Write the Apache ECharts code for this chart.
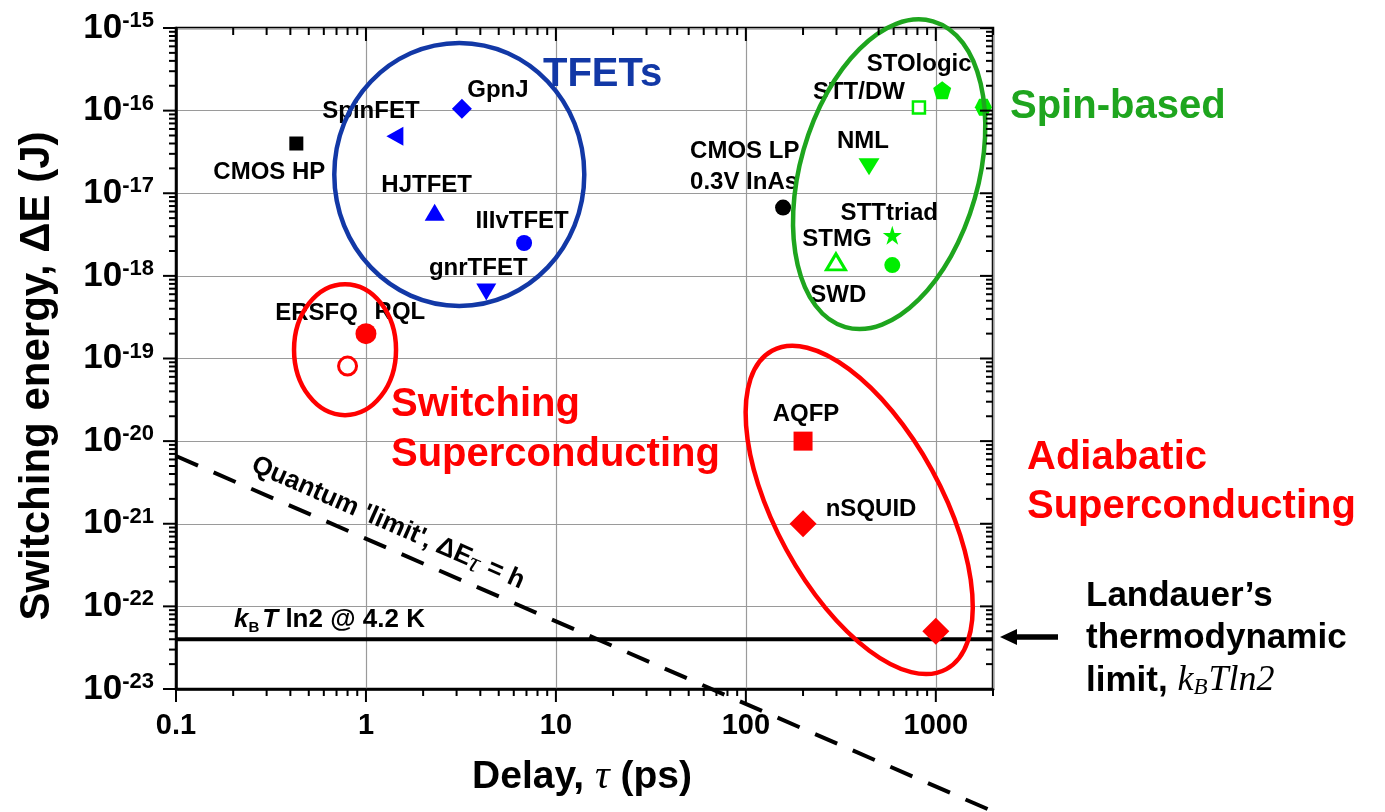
<!DOCTYPE html>
<html>
<head>
<meta charset="utf-8">
<title>Switching energy vs delay</title>
<script src="https://cdn.jsdelivr.net/npm/echarts@6/dist/echarts.min.js"></script>
<style>
  html, body { margin: 0; padding: 0; background: #fff; }
  #chart { width: 1385px; height: 812px; }
</style>
</head>
<body>
<div id="chart"></div>
<script>
// ---------- data ----------
const deviceNames = ['CMOS HP', 'SpinFET', 'GpnJ', 'HJTFET', 'IIIvTFET', 'gnrTFET',
  'ERSFQ', 'RQL', 'CMOS LP\n0.3V InAs', 'STOlogic', 'STT/DW', 'spin (edge)',
  'NML', 'STTtriad', 'STMG', 'SWD', 'AQFP', 'nSQUID', 'adiabatic (low)'];
const delayPs = [0.43, 1.42, 3.2, 2.3, 6.8, 4.3,
  0.8, 1.0, 157, 1080, 815, 1780,
  445, 590, 298, 590, 200, 200, 1000];
const energyJ = [4.0e-17, 4.9e-17, 1.05e-16, 5.9e-18, 2.5e-18, 6.4e-19,
  8.1e-20, 2.0e-19, 6.7e-18, 1.77e-16, 1.09e-16, 1.1e-16,
  2.1e-17, 3.1e-18, 1.48e-18, 1.35e-18, 1.0e-20, 1.0e-21, 5.0e-23];

// centres of the family outlines
const groupNames = ['TFETs', 'Spin-based', 'Switching SC', 'Adiabatic SC'];
const groupDelayPs = [3.1, 568, 0.776, 395];
const groupEnergyJ = [1.69e-17, 1.70e-17, 1.28e-19, 1.47e-21];

// limit lines
const thermalDelayPs = [0.1, 2000];
const thermalEnergyJ = [4.0e-23, 4.0e-23];
const quantumDelayPs = [0.1, 2000];
const quantumEnergyJ = [6.6e-21, 3.3e-25];

// axis ticks
const xTickLabels = ['0.1', '1', '10', '100', '1000'];
const yTickExponents = [-23, -22, -21, -20, -19, -18, -17, -16, -15];
const X_MIN = 0.1, X_MAX = 2000;
const Y_MIN = 1e-23, Y_MAX = 1e-15;

// ---------- styles ----------
const SANS = '"Liberation Sans", Arial, Helvetica, sans-serif';
const SERIF = '"Liberation Serif", "Times New Roman", serif';
const BLUE = '#0000ff', GREEN = '#00ee00', RED = '#ff0000', BLACK = '#000000';
const NAVY = '#1238a6', DGREEN = '#1ea51e';

const PENTAGON = 'path://M0,-1L0.951,-0.309L0.588,0.809L-0.588,0.809L-0.951,-0.309Z';
const STAR = 'path://M0,-1L0.2245,-0.309L0.951,-0.309L0.363,0.118L0.588,0.809L0,0.382L-0.588,0.809L-0.363,0.118L-0.951,-0.309L-0.2245,-0.309Z';
const HEXAGON = 'path://M-0.5,-0.866L0.5,-0.866L1,0L0.5,0.866L-0.5,0.866L-1,0Z';

// marker look and label offset per device
const markerStyle = {
  'CMOS HP':   { symbol: 'rect', size: 14, color: BLACK, label: [-27, 29] },
  'SpinFET':   { symbol: 'triangle', size: [19, 17], rotate: 90, color: BLUE, label: [-24, -25] },
  'GpnJ':      { symbol: 'diamond', size: 20, color: BLUE, label: [36, -18] },
  'HJTFET':    { symbol: 'triangle', size: [20, 17], color: BLUE, label: [-8, -27] },
  'IIIvTFET':  { symbol: 'circle', size: 16, color: BLUE, label: [-2, -22] },
  'gnrTFET':   { symbol: 'triangle', size: [20, 17], rotate: 180, color: BLUE, label: [-8, -24] },
  'ERSFQ':     { symbol: 'circle', size: 18, color: RED, hollow: 3, label: [-31, -53] },
  'RQL':       { symbol: 'circle', size: 21, color: RED, label: [34, -21] },
  'CMOS LP\n0.3V InAs': { symbol: 'circle', size: 16, color: BLACK, label: [-93, -41], align: 'left' },
  'STOlogic':  { symbol: PENTAGON, size: 18, color: GREEN, label: [-23, -26] },
  'STT/DW':    { symbol: 'rect', size: 12, color: GREEN, hollow: 2.5, label: [-60, -15] },
  'spin (edge)': { symbol: HEXAGON, size: 17, color: GREEN },
  'NML':       { symbol: 'triangle', size: [21, 17], rotate: 180, color: GREEN, label: [-6, -25] },
  'STTtriad':  { symbol: STAR, size: 19, color: GREEN, label: [-3, -22] },
  'STMG':      { symbol: 'triangle', size: [19, 16], color: GREEN, hollow: 3, label: [1, -22] },
  'SWD':       { symbol: 'circle', size: 16, color: GREEN, label: [-54, 30] },
  'AQFP':      { symbol: 'rect', size: 19, color: RED, label: [3, -27] },
  'nSQUID':    { symbol: 'diamond', size: 27, color: RED, label: [68, -14] },
  'adiabatic (low)': { symbol: 'diamond', size: 27, color: RED }
};

// outline shapes (pixel semi-axes, rotation in degrees, counter-clockwise positive)
const outlineStyle = {
  'TFETs':        { rx: 125, ry: 131.5, rot: 0, color: NAVY },
  'Spin-based':   { rx: 89, ry: 159, rot: -16, color: DGREEN },
  'Switching SC': { rx: 51, ry: 65.5, rot: 0, color: RED },
  'Adiabatic SC': { rx: 83, ry: 181.5, rot: 28.7, color: RED }
};

const yLabelRich = {
  b: { fontFamily: SANS, fontWeight: 'bold', fontSize: 35, fill: BLACK, lineHeight: 36 },
  s: { fontFamily: SANS, fontWeight: 'bold', fontSize: 22, fill: BLACK, lineHeight: 18, verticalAlign: 'top' }
};

// ---------- build series data ----------
const deviceData = deviceNames.map((name, i) => {
  const s = markerStyle[name];
  const item = {
    name: name,
    value: [delayPs[i], energyJ[i]],
    symbol: s.symbol,
    symbolSize: s.size,
    symbolRotate: s.rotate || 0,
    itemStyle: s.hollow
      ? { color: '#ffffff', borderColor: s.color, borderWidth: s.hollow, opacity: 1 }
      : { color: s.color, borderWidth: 0, opacity: 1 }
  };
  if (s.label) {
    item.label = {
      show: true,
      position: 'inside',
      offset: s.label,
      align: s.align || 'center',
      verticalAlign: 'middle',
      formatter: name,
      color: BLACK,
      opacity: 1,
      fontFamily: SANS,
      fontWeight: 'bold',
      fontSize: 24,
      lineHeight: 31
    };
  } else {
    item.label = { show: false };
  }
  return item;
});

const groupData = groupNames.map((name, i) => ({ name: name, value: [groupDelayPs[i], groupEnergyJ[i]] }));

function pairs(xs, ys) { return xs.map((x, i) => [x, ys[i]]); }

// ---------- renderers ----------
function renderOutline(params, api) {
  const s = outlineStyle[groupNames[params.dataIndex]];
  const c = api.coord([api.value(0), api.value(1)]);
  return {
    type: 'ellipse',
    x: c[0], y: c[1],
    rotation: s.rot * Math.PI / 180,
    shape: { cx: 0, cy: 0, rx: s.rx, ry: s.ry },
    style: { fill: 'none', stroke: s.color, lineWidth: 4.5 }
  };
}

// log-axis tick marks (bottom/left outward, top/right inward) and decade labels of the energy axis
function renderTicks(params, api) {
  const cs = params.coordSys;
  const left = cs.x, right = cs.x + cs.width, top = cs.y, bottom = cs.y + cs.height;
  const children = [];
  const seg = (x1, y1, x2, y2) => children.push({
    type: 'line', shape: { x1, y1, x2, y2 }, style: { stroke: BLACK, lineWidth: 2 }
  });
  for (let e = -1; e <= 3; e++) {
    for (let m = 1; m <= 9; m++) {
      const v = m * Math.pow(10, e);
      if (v > X_MAX * 1.0001) break;
      const px = api.coord([v, Y_MIN])[0];
      const len = m === 1 ? 13 : 7;
      seg(px, bottom, px, bottom + len);
      seg(px, top, px, top + len);
    }
  }
  for (let e = -23; e <= -15; e++) {
    for (let m = 1; m <= 9; m++) {
      const v = m * Math.pow(10, e);
      if (v > Y_MAX * 1.0001) break;
      const py = api.coord([X_MIN, v])[1];
      const len = m === 1 ? 13 : 7;
      seg(left - len, py, left, py);
      seg(right - len, py, right, py);
    }
  }
  yTickExponents.forEach(e => {
    const py = api.coord([X_MIN, Math.pow(10, e)])[1];
    children.push({
      type: 'text', x: left - 22, y: py,
      style: {
        text: '{b|10}{s|' + e + '}', rich: yLabelRich,
        align: 'right', verticalAlign: 'middle', textAlign: 'right', textVerticalAlign: 'middle'
      }
    });
  });
  return { type: 'group', children: children };
}

function isDecade(v) {
  const l = Math.log10(v);
  return Math.abs(l - Math.round(l)) < 1e-6;
}

// ---------- chart ----------
const chart = echarts.init(document.getElementById('chart'), null, { renderer: 'canvas' });

const option = {
  backgroundColor: '#ffffff',
  animation: false,
  grid: {
    left: 176, right: 392, top: 28, bottom: 123,
    containLabel: false, outerBoundsMode: 'none',
    show: true, borderColor: BLACK, borderWidth: 2.5, backgroundColor: 'transparent'
  },
  xAxis: {
    type: 'log', logBase: 10, min: X_MIN, max: X_MAX,
    axisLine: { show: true, lineStyle: { color: BLACK, width: 2.5 } },
    axisTick: { show: false },
    splitLine: { show: true, lineStyle: { color: '#9a9a9a', width: 1.2 } },
    axisLabel: {
      margin: 22, hideOverlap: false,
      color: BLACK, fontFamily: SANS, fontWeight: 'bold', fontSize: 29,
      showMinLabel: true, showMaxLabel: true,
      formatter: v => isDecade(v) ? xTickLabels[Math.round(Math.log10(v)) + 1] : ''
    }
  },
  yAxis: {
    type: 'log', logBase: 10, min: Y_MIN, max: Y_MAX,
    axisLine: { show: true, lineStyle: { color: BLACK, width: 2.5 } },
    axisTick: { show: false },
    axisLabel: { show: false },
    splitLine: { show: true, lineStyle: { color: '#9a9a9a', width: 1.2 } }
  },
  series: [
    {
      name: 'kBT ln2 @ 4.2 K', type: 'line', data: pairs(thermalDelayPs, thermalEnergyJ),
      symbol: 'none', z: 3, silent: true,
      lineStyle: { color: BLACK, width: 4 }
    },
    {
      name: 'Quantum limit', type: 'line', data: pairs(quantumDelayPs, quantumEnergyJ),
      symbol: 'none', z: 3, silent: true, clip: false,
      lineStyle: { color: BLACK, width: 4, type: [24, 17] }
    },
    {
      name: 'Devices', type: 'scatter', data: deviceData, z: 4
    },
    {
      name: 'Families', type: 'custom', data: groupData, renderItem: renderOutline, z: 5, silent: true
    },
    {
      name: 'Ticks', type: 'custom', data: [[1, 1e-19]], renderItem: renderTicks, z: 6, silent: true
    }
  ],
  graphic: [
    // axis titles
    { type: 'text', x: 37, y: 376, rotation: Math.PI / 2, z: 20,
      style: { text: 'Switching energy, \u0394E (J)', font: 'bold 42px ' + SANS, fill: BLACK,
        align: 'center', verticalAlign: 'middle', textAlign: 'center', textVerticalAlign: 'middle' } },
    { type: 'text', x: 582, y: 777, z: 20,
      style: {
        text: '{n|Delay, }{t|\u03c4}{n| (ps)}',
        align: 'center', verticalAlign: 'middle', textAlign: 'center', textVerticalAlign: 'middle',
        rich: {
          n: { font: 'bold 39px ' + SANS, fill: BLACK },
          t: { font: 'italic 41px ' + SERIF, fill: BLACK }
        }
      } },
    // family names
    { type: 'text', x: 543, y: 75, z: 20,
      style: { text: 'TFETs', font: 'bold 40px ' + SANS, fill: NAVY, align: 'left', verticalAlign: 'middle', textAlign: 'left', textVerticalAlign: 'middle' } },
    { type: 'text', x: 1010, y: 107, z: 20,
      style: { text: 'Spin-based', font: 'bold 40px ' + SANS, fill: DGREEN, align: 'left', verticalAlign: 'middle', textAlign: 'left', textVerticalAlign: 'middle' } },
    { type: 'text', x: 391, y: 405, z: 20,
      style: { text: 'Switching', font: 'bold 40px ' + SANS, fill: RED, align: 'left', verticalAlign: 'middle', textAlign: 'left', textVerticalAlign: 'middle' } },
    { type: 'text', x: 391, y: 455, z: 20,
      style: { text: 'Superconducting', font: 'bold 40px ' + SANS, fill: RED, align: 'left', verticalAlign: 'middle', textAlign: 'left', textVerticalAlign: 'middle' } },
    { type: 'text', x: 1027, y: 458, z: 20,
      style: { text: 'Adiabatic', font: 'bold 40px ' + SANS, fill: RED, align: 'left', verticalAlign: 'middle', textAlign: 'left', textVerticalAlign: 'middle' } },
    { type: 'text', x: 1027, y: 507, z: 20,
      style: { text: 'Superconducting', font: 'bold 40px ' + SANS, fill: RED, align: 'left', verticalAlign: 'middle', textAlign: 'left', textVerticalAlign: 'middle' } },
    // limit annotations
    { type: 'text', x: 388, y: 523, rotation: -23.7 * Math.PI / 180, z: 20,
      style: {
        text: "{n|Quantum 'limit', \u0394E}{t|\u03c4}{n| = h}",
        align: 'center', verticalAlign: 'middle', textAlign: 'center', textVerticalAlign: 'middle',
        rich: {
          n: { font: 'bold 26px ' + SANS, fill: BLACK },
          t: { font: 'italic 28px ' + SERIF, fill: BLACK, padding: [6, 2, 0, 0] }
        }
      } },
    { type: 'text', x: 234, y: 620, z: 20,
      style: {
        text: '{i|k}{b|B}{i|T}{n| ln2 @ 4.2 K}',
        align: 'left', verticalAlign: 'middle', textAlign: 'left', textVerticalAlign: 'middle',
        rich: {
          i: { font: 'italic bold 26px ' + SANS, fill: BLACK },
          b: { font: 'bold 15px ' + SANS, fill: BLACK, padding: [15, 3, 0, 0] },
          n: { font: 'bold 26px ' + SANS, fill: BLACK }
        }
      } },
    // Landauer arrow and caption
    { type: 'line', z: 20, shape: { x1: 1014, y1: 637, x2: 1058, y2: 637 }, style: { stroke: BLACK, lineWidth: 5.5 } },
    { type: 'polygon', z: 20, shape: { points: [[1000, 637], [1017, 629], [1017, 645]] }, style: { fill: BLACK } },
    { type: 'text', x: 1086, y: 596, z: 20,
      style: { text: 'Landauer\u2019s', font: 'bold 35px ' + SANS, fill: BLACK, align: 'left', verticalAlign: 'middle', textAlign: 'left', textVerticalAlign: 'middle' } },
    { type: 'text', x: 1086, y: 638, z: 20,
      style: { text: 'thermodynamic', font: 'bold 35px ' + SANS, fill: BLACK, align: 'left', verticalAlign: 'middle', textAlign: 'left', textVerticalAlign: 'middle' } },
    { type: 'text', x: 1086, y: 681, z: 20,
      style: {
        text: '{n|limit, }{m|k}{s|B}{m|Tln2}',
        align: 'left', verticalAlign: 'middle', textAlign: 'left', textVerticalAlign: 'middle',
        rich: {
          n: { font: 'bold 35px ' + SANS, fill: BLACK },
          m: { font: 'italic 36px ' + SERIF, fill: BLACK },
          s: { font: 'italic 23px ' + SERIF, fill: BLACK, padding: [14, 1, 0, 0] }
        }
      } }
  ]
};

chart.setOption(option);
</script>
</body>
</html>
